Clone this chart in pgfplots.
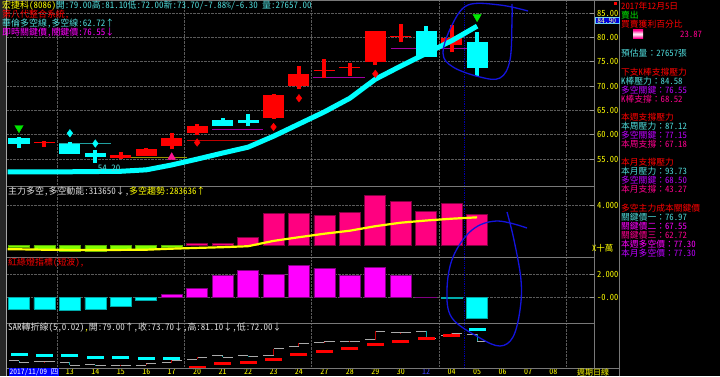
\documentclass[border=0pt]{standalone}
\usepackage{fontspec}
\setmainfont{Noto Sans CJK TC}[RawFeature=+hwid]
\newfontfamily\cjkfw{Noto Sans CJK TC}
\newcommand{\fc}{{\cjkfw ：}}
\usepackage{pgfplots}
\usepackage{pgfplotstable}
\pgfplotsset{compat=1.18}

\definecolor{kred}{RGB}{255,0,0}
\definecolor{kcyan}{RGB}{0,255,255}
\definecolor{txtcyan}{RGB}{80,220,220}
\definecolor{ylw}{RGB}{255,255,0}
\definecolor{mag}{RGB}{255,0,255}
\definecolor{purp}{RGB}{190,0,255}
\definecolor{pinkt}{RGB}{255,0,144}
\definecolor{barpink}{RGB}{255,0,128}
\definecolor{barpinkedge}{RGB}{130,0,65}
\definecolor{magedge}{RGB}{130,0,130}
\definecolor{limeg}{RGB}{128,255,0}
\definecolor{gridc}{RGB}{90,90,90}
\definecolor{sepc}{RGB}{120,120,120}
\definecolor{cursorc}{RGB}{0,0,170}
\definecolor{stepgray}{RGB}{170,170,170}
\definecolor{stepred}{RGB}{190,0,0}
\definecolor{steptea}{RGB}{0,170,170}
\definecolor{annot}{RGB}{20,20,220}
\definecolor{grnmark}{RGB}{0,230,0}
\definecolor{tripink}{RGB}{255,20,147}
\definecolor{olivel}{RGB}{150,150,0}
\definecolor{teall}{RGB}{32,160,160}
\definecolor{dkred}{RGB}{192,0,0}
\definecolor{purpl}{RGB}{160,0,160}
\definecolor{tickc}{RGB}{150,150,150}
\definecolor{tblue}{RGB}{60,60,255}

% candles: up (red) and down (cyan)
\pgfplotstableread{
x o h l c
2 58.35 58.8 57.5 58.45
5 55.3 56.4 55.0 55.85
6 55.6 57.3 55.6 57.0
7 57.7 60.3 57.0 59.4
8 60.3 62.2 59.9 61.8
11 63.4 68.3 63.3 68.2
12 70.1 74.1 69.3 72.4
13 73.2 75.5 71.6 73.35
14 73.8 74.7 72.1 73.9
15 74.9 81.4 74.3 81.3
16 80.25 82.7 79.0 80.35
18 78.4 82.5 76.9 79.9
}\upk
\pgfplotstableread{
x o h l c
1 59.3 59.6 57.2 58.0
3 58.0 58.6 56.0 56.0
4 56.3 56.9 54.2 55.5
9 63.0 63.4 61.9 61.9
10 63.0 64.2 61.9 62.35
17 81.4 82.3 75.9 76.0
19 79.0 81.1 72.0 73.7
}\dnk
\pgfplotstableread{
x y
0.55 52.4
1 52.4
2 52.4
3 52.4
4 52.45
5 52.5
6 52.8
7 53.8
8 55.0
9 56.25
10 57.45
11 59.7
12 62.2
13 64.7
14 67.5
15 71.4
16 74.1
17 76.7
18 79.3
19 82.3
}\matab
\pgfplotstableread{
x y
0.55 -0.36
1 -0.36
2 -0.4
3 -0.42
4 -0.42
5 -0.42
6 -0.4
7 -0.3
8 -0.22
9 -0.15
10 -0.05
11 0.48
12 0.85
13 1.2
14 1.5
15 1.95
16 2.3
17 2.52
18 2.7
19 2.836
}\trendtab

\pgfplotsset{
  panel/.style={
    scale only axis, width=587bp, anchor=south west,
    xmin=0.5285, xmax=23.593,
    axis line style={draw=none},
    xtick={2.5,7.5,12.5,17.5,22.5}, xticklabels={},
    xmajorgrids, ymajorgrids,
    grid style={densely dotted, draw=gridc, line width=0.6bp},
    xtick style={draw=none},
    ytick pos=right, tick align=inside,
    ytick style={draw=tickc, line width=0.6bp},
    major tick length=4bp,
    yticklabel style={font=\fontsize{8.5}{9}\selectfont, text=ylw, anchor=west, inner sep=0pt, xshift=3bp},
    clip=true,
  },
  cursor/.style={draw=cursorc, densely dotted, line width=0.8bp, forget plot},
}
\tikzset{txt/.style={anchor=west, inner sep=0pt, font=\fontsize{9}{9}\selectfont}}

\begin{document}
\begin{tikzpicture}[x=1bp,y=1bp]
\useasboundingbox (0,0) rectangle (720,376);
\fill[black] (0,0) rectangle (720,376);

% ---------------- price panel ----------------
\begin{axis}[panel, at={(7bp,190bp)}, height=185bp, ymin=49.48, ymax=87.46,
  ytick={55,60,65,70,75,80,85}, yticklabels={55.00,60.00,65.00,70.00,75.00,80.00,85.00}]
\addplot[cursor] coordinates {(18.5,49.48) (18.5,87.46)};
\addplot[teall, line width=0.8bp, forget plot] coordinates {(2.59,58.2) (4.6,58.2)};
\addplot[olivel, line width=0.8bp, forget plot] coordinates {(4.6,55.4) (7.6,55.4)};
\addplot[dkred, line width=0.8bp, forget plot] coordinates {(7.6,58.9) (10.5,58.9)};
\addplot[purpl, line width=0.8bp, forget plot] coordinates {(8.6,61.1) (10.6,61.1)};
\addplot[purpl, line width=0.8bp, forget plot] coordinates {(12.55,71.8) (14.6,71.8)};
\addplot[purpl, line width=0.8bp, forget plot] coordinates {(15.6,77.75) (18.6,77.75)};
% wicks
\addplot[draw=none, forget plot, error bars/.cd, y dir=plus, y explicit, error mark=none,
  error bar style={draw=kred, line width=4bp}]
  table[x=x, y=l, y error expr=\thisrow{h}-\thisrow{l}] {\upk};
\addplot[draw=none, forget plot, error bars/.cd, y dir=plus, y explicit, error mark=none,
  error bar style={draw=kcyan, line width=4bp}]
  table[x=x, y=l, y error expr=\thisrow{h}-\thisrow{l}] {\dnk};
% bodies
\addplot[draw=none, forget plot, error bars/.cd, y dir=plus, y explicit, error mark=none,
  error bar style={draw=kred, line width=21bp}]
  table[x=x, y=o, y error expr=\thisrow{c}-\thisrow{o}] {\upk};
\addplot[draw=none, forget plot, error bars/.cd, y dir=minus, y explicit, error mark=none,
  error bar style={draw=kcyan, line width=21bp}]
  table[x=x, y=o, y error expr=\thisrow{o}-\thisrow{c}] {\dnk};
% moving line
\addplot[kcyan, line width=5bp, line join=round] table {\matab};
% markers
\addplot[only marks, mark=diamond*, mark size=3.8bp, kcyan] coordinates {(3,60.3) (4,58.2)};
\addplot[only marks, mark=diamond*, mark size=3.8bp, kred] coordinates {(8,58.4) (11,61.6) (12,67.5) (15,72.5)};
\addplot[only marks, mark=triangle*, mark size=4.8bp, mark options={rotate=180, fill=grnmark, draw=grnmark}] coordinates {(1,61.4) (19,84.2)};
\addplot[only marks, mark=triangle*, mark size=4.5bp, mark options={fill=tripink, draw=tripink}] coordinates {(7,55.4)};
\node[text=txtcyan, inner sep=0pt, font=\fontsize{9}{9}\selectfont] at (axis cs:4.54,53.2) {54.20};
\end{axis}

% ---------------- main force panel ----------------
\begin{axis}[panel, at={(7bp,119bp)}, height=71bp, ymin=-1.13, ymax=5.97,
  ytick={4}, yticklabels={4.000}]
\addplot[cursor] coordinates {(18.5,-1.13) (18.5,5.97)};
\addplot[ybar, bar width=21bp, fill=barpink, draw=barpinkedge, line width=0.8bp] table {
x y
8 0.24
9 0.24
10 0.84
11 3.24
12 3.24
13 3.0
14 3.34
15 5.07
16 4.4
17 3.4
18 4.24
19 3.1365
};
\addplot[ybar, bar width=21bp, fill=limeg, draw=limeg!70!black, line width=0.6bp] table {
x y
1 -0.17
2 -0.35
3 -0.58
4 -0.58
5 -0.35
6 -0.35
7 -0.2
};
\addplot[ylw, line width=2.2bp] table {\trendtab};
\end{axis}

% ---------------- traffic light panel ----------------
\begin{axis}[panel, at={(7bp,53bp)}, height=66bp, ymin=-2.162, ymax=3.479,
  ytick={0,2}, yticklabels={-0.00,2.000}]
\addplot[cursor] coordinates {(18.5,-2.162) (18.5,3.479)};
\addplot[ybar, bar width=21bp, fill=mag, draw=magedge, line width=0.8bp] table {
x y
7 0.3
8 0.8
9 1.9
10 2.3
11 2.0
12 2.74
13 2.5
14 1.88
15 2.6
16 1.88
17 0.05
};
\addplot[ybar, bar width=21bp, fill=kcyan, draw=steptea, line width=0.6bp] table {
x y
1 -1.0
2 -0.95
3 -1.05
4 -1.0
5 -0.75
6 -0.25
18 -0.06
19 -1.74
};
\end{axis}

% ---------------- SAR panel ----------------
\begin{axis}[panel, at={(7bp,8bp)}, height=45bp, ymin=53.67, ymax=87.5,
  ytick=\empty, ymajorgrids=false,
  extra x ticks={3,4,...,22},
  extra x tick labels={13,14,15,16,17,20,21,22,23,24,27,28,29,30,\textcolor{tblue}{12},04,05,06,07,08},
  extra x tick style={grid=none, major tick length=0pt},
  xticklabel style={text=ylw, font=\fontsize{8}{8}\selectfont, inner sep=0pt, yshift=-0.5bp}]
\addplot[cursor] coordinates {(18.5,53.67) (18.5,87.5)};
% step lines (open left, close right)
\addplot[draw=none, forget plot, error bars/.cd, x dir=both, x explicit, error mark=none,
  error bar style={draw=stepgray, line width=0.8bp}]
  table[x expr=\thisrow{x}-0.2, y=o, x error expr=0.2] {\upk};
\addplot[draw=none, forget plot, error bars/.cd, x dir=both, x explicit, error mark=none,
  error bar style={draw=stepgray, line width=0.8bp}]
  table[x expr=\thisrow{x}+0.2, y=c, x error expr=0.2] {\upk};
\addplot[draw=none, forget plot, error bars/.cd, x dir=both, x explicit, error mark=none,
  error bar style={draw=stepgray, line width=0.8bp}]
  table[x expr=\thisrow{x}-0.2, y=o, x error expr=0.2] {\dnk};
\addplot[draw=none, forget plot, error bars/.cd, x dir=both, x explicit, error mark=none,
  error bar style={draw=stepgray, line width=0.8bp}]
  table[x expr=\thisrow{x}+0.2, y=c, x error expr=0.2] {\dnk};
\addplot[draw=none, forget plot, error bars/.cd, y dir=plus, y explicit, error mark=none,
  error bar style={draw=stepred, line width=1bp}]
  table[x=x, y=o, y error expr=\thisrow{c}-\thisrow{o}] {\upk};
\addplot[draw=none, forget plot, error bars/.cd, y dir=minus, y explicit, error mark=none,
  error bar style={draw=steptea, line width=1bp}]
  table[x=x, y=o, y error expr=\thisrow{o}-\thisrow{c}] {\dnk};
% SAR
\addplot[only marks, mark=-, mark size=8.5bp, mark options={draw=kcyan, line width=3bp}] coordinates {
(1,64.0) (2,63.4) (3,62.7) (4,61.9) (5,61.4) (6,61.0) (7,61.0) (19,82.7)};
\addplot[only marks, mark=-, mark size=8.5bp, mark options={draw=kred, line width=3bp}] coordinates {
(8,54.2) (9,56.7) (10,57.9) (11,60.2) (12,64.0) (13,66.2) (14,68.5) (15,71.2) (16,73.7) (17,76.0) (18,78.0)};
\end{axis}

% ---------------- frames ----------------
\fill[black!85!white] (0,0) rectangle (6,376);
\draw[gray!70, line width=0.8bp] (6.5,0) -- (6.5,376);
\draw[sepc, line width=0.8bp] (7,375.5) -- (619,375.5);
\draw[sepc, line width=0.8bp] (7,190) -- (594,190);
\draw[sepc, line width=0.8bp] (7,119) -- (594,119);
\draw[sepc, line width=0.8bp] (7,53) -- (594,53);
\draw[sepc, line width=0.8bp] (7,8) -- (619,8);
\draw[sepc, line width=0.8bp] (594,8) -- (594,376);
\draw[sepc, line width=0.8bp] (619.5,0) -- (619.5,376);

% ---------------- header texts ----------------
\node[txt] at (2,370.5) {\textcolor{ylw}{宏捷科(8086)}\textcolor{txtcyan}{開:79.00高:81.10低:72.00新:73.70/-7.88\%/-6.30 量:27657.00}};
\node[txt] at (2,361) {\textcolor{kred}{第八代整合系統,}};
\node[txt] at (2,352) {\textcolor{txtcyan}{華倫多空線,多空線:62.72↑}};
\node[txt] at (2,343) {\textcolor{mag}{即時關鍵價,關鍵價:76.55↓}};

\node[txt] at (8,184.5) {\textcolor{white!88!black}{主力多空,多空動能:313650↓,}\textcolor{ylw}{多空趨勢:283636↑}};
\node[txt] at (8,113) {\textcolor{kred}{紅綠燈指標(短波),}};
\node[txt] at (8,48) {\textcolor{white!88!black}{SAR轉折線(5,0.02)}\textcolor{ylw}{,}\textcolor{white!88!black}{開:79.00↑,收:73.70↓,高:81.10↓,低:72.00↓}};

% right axis extras
\node[anchor=west, inner sep=0pt, font=\fontsize{8.5}{9}\selectfont, text=ylw] at (592,127.7) {X十萬};
\node[anchor=west, inner sep=0.4bp, fill=blue!85!black, draw=cyan!60!white, line width=0.5bp, text=ylw!40!white, font=\fontsize{7.5}{7.5}\selectfont, minimum width=24bp] at (594.5,355.6) {84.90};
\fill[kred] (614,371) rectangle (617,374);

% bottom labels
\node[anchor=west, inner sep=0.5bp, fill=blue, text=white, font=\fontsize{7.5}{7.5}\selectfont] at (9,4) {2017/11/09 四};
\node[anchor=west, inner sep=0pt, text=ylw, font=\fontsize{8}{8}\selectfont] at (577,4) {週期日線};

% ---------------- info panel ----------------
\begin{scope}[every node/.style={anchor=west, inner sep=0pt, font=\fontsize{8.8}{9}\selectfont}]
\node at (621,370) {\textcolor{kred}{2017年12月5日}};
\node at (621,361) {\textcolor{grnmark}{賣出}};
\node at (621,352) {\textcolor{kred}{買賣獲利百分比}};
\node at (680,341.5) {\textcolor{pinkt}{23.87}};
\node at (621,323) {\textcolor{txtcyan}{預估量\fc 27657張}};
\node at (621,304) {\textcolor{kred}{下支K棒支撐壓力}};
\node at (621,295) {\textcolor{txtcyan}{K棒壓力\fc 84.58}};
\node at (621,285.8) {\textcolor{purp}{多空關鍵\fc 76.55}};
\node at (621,276.6) {\textcolor{pinkt}{K棒支撐\fc 68.52}};
\node at (621,259) {\textcolor{kred}{本週支撐壓力}};
\node at (621,250) {\textcolor{txtcyan}{本周壓力\fc 87.12}};
\node at (621,241) {\textcolor{purp}{多空關鍵\fc 77.15}};
\node at (621,232) {\textcolor{pinkt}{本周支撐\fc 67.18}};
\node at (621,214) {\textcolor{kred}{本月支撐壓力}};
\node at (621,205) {\textcolor{txtcyan}{本月壓力\fc 93.73}};
\node at (621,196) {\textcolor{purp}{多空關鍵\fc 68.50}};
\node at (621,187) {\textcolor{pinkt}{本月支撐\fc 43.27}};
\node at (621,168) {\textcolor{kred}{多空主力成本關鍵價}};
\node at (621,159) {\textcolor{txtcyan}{關鍵價一\fc 76.97}};
\node at (621,150) {\textcolor{mag}{關鍵價二\fc 67.55}};
\node at (621,141) {\textcolor{pinkt}{關鍵價三\fc 62.72}};
\node at (621,132) {\textcolor{mag}{本週多空價\fc 77.30}};
\node at (621,123) {\textcolor{purp}{本月多空價\fc 77.30}};
\end{scope}
\shade[top color=pinkt, bottom color=pinkt, middle color=white] (633,338) rectangle (643,346);

% ---------------- hand-drawn annotations ----------------
\draw[annot, line width=1.3bp] plot[smooth, tension=0.6] coordinates {
(528,365) (500,371) (468,371) (452,351) (443,323) (453,309) (480,299) (500,298) (510,316) (512,356) (512,372)};
\draw[annot, line width=1.3bp] plot[smooth, tension=0.6] coordinates {
(527,148) (497,155) (472,146) (453,119) (447,86) (452,58) (480,38) (500,30) (513,39) (520,66) (521,96) (514,136) (507,164)};
\end{tikzpicture}
\end{document}
